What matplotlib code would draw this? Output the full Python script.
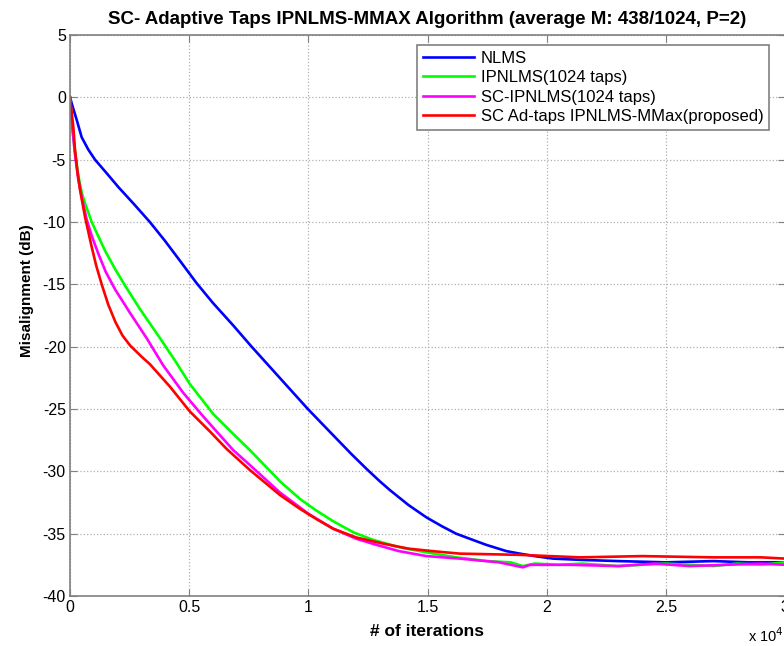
import matplotlib.pyplot as plt

# iterations (x 10^4) and misalignment (dB)
nlms_x = [0, 0.012, 0.028, 0.049, 0.077, 0.105, 0.15, 0.203, 0.27, 0.335, 0.398, 0.461,
          0.531, 0.6, 0.685, 0.762, 0.88, 0.998, 1.104, 1.18, 1.244, 1.3, 1.342, 1.42,
          1.496, 1.56, 1.62, 1.69, 1.747, 1.831, 1.887, 1.95, 2.026, 2.14, 2.3, 2.5, 2.7,
          2.85, 3.0]
nlms_y = [0, -0.8, -1.8, -3.2, -4.2, -5.0, -6.0, -7.2, -8.6, -10.0, -11.5, -13.1,
          -14.9, -16.5, -18.3, -20.0, -22.5, -25.0, -27.1, -28.6, -29.8, -30.8, -31.5, -32.7,
          -33.7, -34.4, -35.0, -35.5, -35.9, -36.4, -36.6, -36.8, -37.0, -37.1, -37.2, -37.3,
          -37.2, -37.3, -37.3]

ipnlms_x = [0, 0.01, 0.02, 0.035, 0.05, 0.063, 0.091, 0.147, 0.19, 0.231, 0.294, 0.377,
            0.44, 0.503, 0.601, 0.685, 0.755, 0.881, 0.964, 1.03, 1.104, 1.19, 1.272,
            1.384, 1.496, 1.621, 1.75, 1.85, 1.9, 1.95, 2.05, 2.15, 2.3, 2.4, 2.5, 2.6,
            2.7, 2.8, 2.9, 3.0]
ipnlms_y = [0, -2.4, -4.2, -6.3, -7.7, -8.5, -10.0, -12.3, -13.8, -15.1, -17.0, -19.3,
            -21.1, -23.0, -25.4, -27.0, -28.3, -30.8, -32.2, -33.1, -34.0, -34.9, -35.5,
            -36.1, -36.5, -36.9, -37.2, -37.3, -37.6, -37.4, -37.5, -37.4, -37.6, -37.5,
            -37.4, -37.5, -37.6, -37.4, -37.5, -37.3]

sc_x = [0, 0.01, 0.02, 0.035, 0.049, 0.07, 0.091, 0.12, 0.15, 0.189, 0.252, 0.321, 0.391,
        0.475, 0.559, 0.685, 0.755, 0.881, 1.0, 1.104, 1.2, 1.286, 1.38, 1.496, 1.635,
        1.8, 1.9, 1.93, 2.1, 2.3, 2.45, 2.6, 2.75, 2.9, 3.0]
sc_y = [0, -2.5, -4.4, -6.6, -8.0, -9.8, -11.1, -12.6, -14.0, -15.4, -17.3, -19.3, -21.5,
        -23.7, -25.6, -28.3, -29.5, -31.7, -33.4, -34.6, -35.4, -35.9, -36.4, -36.8, -37.0,
        -37.3, -37.7, -37.5, -37.5, -37.6, -37.4, -37.6, -37.5, -37.4, -37.5]

adtaps_x = [0, 0.007, 0.014, 0.021, 0.03, 0.042, 0.063, 0.091, 0.11, 0.133, 0.16, 0.19,
            0.22, 0.252, 0.3, 0.335, 0.419, 0.503, 0.587, 0.657, 0.755, 0.881, 0.964, 1.04,
            1.104, 1.2, 1.314, 1.42, 1.52, 1.635, 1.887, 2.14, 2.4, 2.7, 2.9, 3.0]
adtaps_y = [0, -1.2, -2.4, -4.2, -5.8, -7.4, -9.6, -12.0, -13.5, -15.0, -16.6, -18.0,
            -19.1, -19.9, -20.8, -21.4, -23.2, -25.2, -26.8, -28.2, -29.9, -31.9, -33.0, -33.9,
            -34.6, -35.3, -35.8, -36.2, -36.4, -36.6, -36.7, -36.9, -36.8, -36.9, -36.9, -37.0]

labels = ['NLMS', 'IPNLMS(1024 taps)', 'SC-IPNLMS(1024 taps)',
          'SC Ad-taps IPNLMS-MMax(proposed)']
colors = ['#0000ff', '#00ff00', '#ff00ff', '#ff0000']

plt.rcParams['font.family'] = ['Liberation Sans', 'DejaVu Sans']
plt.rcParams['axes.unicode_minus'] = False

fig = plt.figure(figsize=(7.84, 6.46), dpi=100)
ax = fig.add_axes([70/784, 50/646, 715/784, 561/646])

series = [(nlms_x, nlms_y), (ipnlms_x, ipnlms_y), (sc_x, sc_y), (adtaps_x, adtaps_y)]
for (x, y), lab, c in zip(series, labels, colors):
    ax.plot(x, y, color=c, lw=1.9, label=lab)

ax.set_xlim(0, 3)
ax.set_ylim(-40, 5)
ax.set_xticks([0, 0.5, 1, 1.5, 2, 2.5, 3])
ax.set_xticklabels(['0', '0.5', '1', '1.5', '2', '2.5', '3'])
ax.set_yticks(range(-40, 6, 5))
ax.grid(True, color='#b0b0b0', linestyle=':', linewidth=0.9)
for s in ax.spines.values():
    s.set_color('#808080')
    s.set_linewidth(1.2)
ax.tick_params(direction='in', top=True, right=True, color='#808080',
               labelsize=11.5, length=5, pad=3)

ax.set_title('SC- Adaptive Taps IPNLMS-MMAX Algorithm (average M: 438/1024, P=2)',
             fontsize=13.5, fontweight='bold', pad=8)
ax.set_xlabel('# of iterations', fontsize=12.5, fontweight='bold', labelpad=6)
ax.set_ylabel('Misalignment (dB)', fontsize=11, fontweight='bold', labelpad=4)
ax.yaxis.set_label_coords(-0.05, 0.545)
fig.text(748/784, 1 - 636/646, r'x 10$^4$', fontsize=10.5, va='center', ha='left')

leg = ax.legend(loc='upper right', bbox_to_anchor=(0.978, 0.982), borderaxespad=0,
                fancybox=False, edgecolor='#808080', fontsize=12,
                handlelength=3.05, handletextpad=0.4, labelspacing=0.26,
                borderpad=0.35, framealpha=1)
leg.get_frame().set_linewidth(1.2)

fig.savefig('out.png', dpi=100)
